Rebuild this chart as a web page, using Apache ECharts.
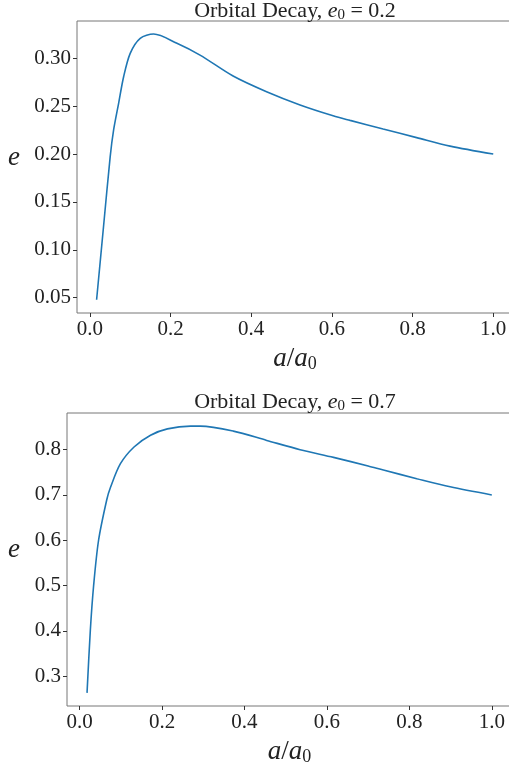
<!DOCTYPE html>
<html>
<head>
<meta charset="utf-8">
<script src="https://cdn.jsdelivr.net/npm/echarts@6/dist/echarts.min.js"></script>
<style>
  html, body { margin: 0; padding: 0; background: #fff; }
  #container { width: 509px; height: 764px; }
</style>
</head>
<body>
<div id="container"></div>
<script>
// e0 = 0.2 curve
var aTop = [0.0166, 0.0335, 0.0503, 0.0588, 0.0712, 0.0836, 0.0999, 0.1247, 0.158, 0.2157, 0.273, 0.355, 0.438, 0.521, 0.603, 0.645, 0.727, 0.810, 0.893, 1.0]
var eTop = [0.0478, 0.123, 0.1973, 0.2252, 0.253, 0.2808, 0.3052, 0.3209, 0.3254, 0.3157, 0.3034, 0.2815, 0.2651, 0.2513, 0.2400, 0.2352, 0.2262, 0.2172, 0.2083, 0.200]

// e0 = 0.7 curve
var aBottom = [0.018, 0.026, 0.034, 0.046, 0.066, 0.075, 0.099, 0.132, 0.172, 0.213, 0.269, 0.293, 0.373, 0.454, 0.535, 0.616, 0.700, 0.737, 0.818, 0.899, 1.0]
var eBottom = [0.263, 0.401, 0.500, 0.600, 0.690, 0.717, 0.769, 0.806, 0.832, 0.846, 0.852, 0.852, 0.841, 0.8205, 0.800, 0.783, 0.764, 0.755, 0.736, 0.718, 0.700]

var xTicks = [0, 0.2, 0.4, 0.6, 0.8, 1.0]
var yTicksTop = [0.05, 0.10, 0.15, 0.20, 0.25, 0.30]
var yTicksBottom = [0.3, 0.4, 0.5, 0.6, 0.7, 0.8]

var FONT = 'Liberation Serif'

function pairs(xs, ys) {
  var out = []
  for (var i = 0; i < xs.length; i++) {
    out.push([xs[i], ys[i]])
  }
  return out
}

function xAxisFor(idx, min, max) {
  return {
    type: 'value',
    gridIndex: idx,
    min: min,
    max: max,
    splitLine: { show: false },
    axisLine: { show: false, onZero: false },
    axisTick: { show: true, length: 4, customValues: xTicks, lineStyle: { color: '#333', width: 1 } },
    axisLabel: {
      customValues: xTicks,
      margin: 6,
      color: '#222',
      fontFamily: FONT,
      fontSize: 21,
      formatter: function(v) { return v.toFixed(1) }
    },
    name: '{i|a}{s|/}{i|a}{sub|0}',
    nameLocation: 'middle',
    nameGap: 32,
    nameTextStyle: {
      rich: {
        i: { fontFamily: FONT, fontStyle: 'italic', fontSize: 27, color: '#222' },
        s: { fontFamily: FONT, fontSize: 27, color: '#222' },
        sub: { fontFamily: FONT, fontSize: 18, color: '#222', padding: [10, 0, 0, 0] }
      }
    }
  }
}

function yAxisFor(idx, min, max, ticks, digits, gap) {
  return {
    type: 'value',
    gridIndex: idx,
    min: min,
    max: max,
    splitLine: { show: false },
    axisLine: { show: false, onZero: false },
    axisTick: { show: true, length: 4, customValues: ticks, lineStyle: { color: '#333', width: 1 } },
    axisLabel: {
      customValues: ticks,
      margin: 6,
      color: '#222',
      fontFamily: FONT,
      fontSize: 21,
      formatter: function(v) { return v.toFixed(digits) }
    },
    name: 'e',
    nameLocation: 'middle',
    nameRotate: 0,
    nameGap: gap,
    nameTextStyle: {
      fontFamily: FONT,
      fontStyle: 'italic',
      fontSize: 27,
      lineHeight: 19,
      color: '#222',
      verticalAlign: 'bottom'
    }
  }
}

function titleFor(e0, top) {
  return {
    text: '{t|Orbital Decay, }{i|e}{sub|0}{t| = ' + e0 + '}',
    left: 295,
    top: top,
    textAlign: 'center',
    padding: 0,
    textStyle: {
      fontWeight: 'normal',
      rich: {
        t: { fontFamily: FONT, fontWeight: 'normal', fontSize: 22, color: '#222' },
        i: { fontFamily: FONT, fontWeight: 'normal', fontStyle: 'italic', fontSize: 22, color: '#222' },
        sub: { fontFamily: FONT, fontWeight: 'normal', fontSize: 15, color: '#222', padding: [8, 0, 0, 0] }
      }
    }
  }
}

var chart = echarts.init(document.getElementById('container'), null, { renderer: 'canvas' })

chart.setOption({
  backgroundColor: '#ffffff',
  animation: false,
  title: [titleFor('0.2', 0), titleFor('0.7', 391)],
  grid: [
    { left: 77, top: 21, width: 436, height: 292, show: true, borderColor: '#777', borderWidth: 1, backgroundColor: 'transparent', outerBoundsMode: 'none' },
    { left: 67, top: 413, width: 445, height: 293, show: true, borderColor: '#777', borderWidth: 1, backgroundColor: 'transparent', outerBoundsMode: 'none' }
  ],
  xAxis: [
    xAxisFor(0, -0.032, 1.049),
    xAxisFor(1, -0.0306, 1.049)
  ],
  yAxis: [
    yAxisFor(0, 0.034, 0.339, yTicksTop, 2, 57),
    yAxisFor(1, 0.234, 0.881, yTicksBottom, 1, 47)
  ],
  series: [
    {
      type: 'line',
      xAxisIndex: 0,
      yAxisIndex: 0,
      data: pairs(aTop, eTop),
      showSymbol: false,
      smooth: 0.3,
      lineStyle: { color: '#1f77b4', width: 1.6 }
    },
    {
      type: 'line',
      xAxisIndex: 1,
      yAxisIndex: 1,
      data: pairs(aBottom, eBottom),
      showSymbol: false,
      smooth: 0.3,
      lineStyle: { color: '#1f77b4', width: 1.6 }
    }
  ]
})
</script>
</body>
</html>
